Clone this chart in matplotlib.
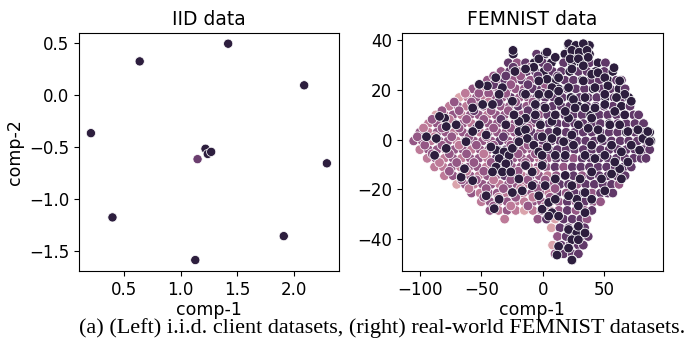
import numpy as np
import pandas as pd
import seaborn as sns
import matplotlib.pyplot as plt

plt.rcParams['font.family'] = 'DejaVu Sans'

# IID client embeddings
iid_x = [0.21, 0.64, 1.42, 2.09, 2.29, 1.91, 1.13, 0.40, 1.22, 1.24, 1.27, 1.15]
iid_y = [-0.37, 0.32, 0.49, 0.09, -0.66, -1.36, -1.59, -1.18, -0.52, -0.57, -0.55, -0.62]
iid_hue = [5, 5, 5, 5, 5, 5, 5, 5, 5, 5, 5, 3.8]

# FEMNIST embeddings, underlying layer read row by row
fem_rows_y = [38, 34.5, 31, 27.5, 24, 20.5, 17, 13.5, 10, 6.5, 3, -0.5, -4, -7.5, -11,
              -14.5, -18, -21.5, -25, -28.5, -32, -35.5, -39, -42.5, -46, -48.5]
fem_rows_x = [
    [21, 27, 33, 38],
    [-24, -5, 2, 18, 24, 31, 38],
    [-28, -21, -14, -7, 0, 7, 17, 24, 31, 38, 45, 51],
    [-34, -27, -20, -13, -6, 1, 8, 15, 22, 29, 36, 43, 50, 57],
    [-45, -38, -31, -24, -17, -10, -3, 4, 11, 18, 25, 32, 39, 46, 53, 60, 64],
    [-57, -50, -43, -36, -29, -22, -15, -8, -1, 6, 13, 20, 27, 34, 41, 48, 55, 62, 67],
    [-68, -61, -54, -47, -40, -33, -26, -19, -12, -5, 2, 9, 16, 23, 30, 37, 44, 51, 58, 65, 70],
    [-76, -69, -62, -55, -48, -41, -34, -27, -20, -13, -6, 1, 8, 15, 22, 29, 36, 43, 50, 57, 64, 71],
    [-87, -80, -73, -66, -59, -52, -45, -38, -31, -24, -17, -10, -3, 4, 11, 18, 25, 32, 39, 46, 53, 60, 67, 74, 78],
    [-93, -86, -79, -72, -65, -58, -51, -44, -37, -30, -23, -16, -9, -2, 5, 12, 19, 26, 33, 40, 47, 54, 61, 68, 75, 82],
    [-100, -93, -86, -79, -72, -65, -58, -51, -44, -37, -30, -23, -16, -9, -2, 5, 12, 19, 26, 33, 40, 47, 54, 61, 68, 75, 82, 87],
    [-105, -98, -91, -84, -77, -70, -63, -56, -49, -42, -35, -28, -21, -14, -7, 0, 7, 14, 21, 28, 35, 42, 49, 56, 63, 70, 77, 84, 88],
    [-100, -93, -86, -79, -72, -65, -58, -51, -44, -37, -30, -23, -16, -9, -2, 5, 12, 19, 26, 33, 40, 47, 54, 61, 68, 75, 82, 87],
    [-94, -87, -80, -73, -66, -59, -52, -45, -38, -31, -24, -17, -10, -3, 4, 11, 18, 25, 32, 39, 46, 53, 60, 67, 74, 80, 84],
    [-88, -81, -74, -67, -60, -53, -46, -39, -32, -25, -18, -11, -4, 3, 10, 17, 24, 31, 38, 45, 52, 59, 66, 72],
    [-80, -73, -66, -59, -52, -45, -38, -31, -24, -17, -10, -3, 4, 11, 18, 25, 32, 39, 46, 53, 60, 67],
    [-70, -63, -56, -49, -42, -35, -28, -21, -14, -7, 0, 7, 14, 21, 28, 35, 42, 49, 56, 62],
    [-58, -51, -44, -37, -30, -23, -16, -9, -2, 5, 12, 19, 26, 33, 40, 47, 53, 57],
    [-50, -43, -36, -29, -22, -15, -8, -1, 6, 13, 20, 27, 34, 41, 47],
    [-43, -36, -29, -22, -15, -8, -1, 6, 13, 20, 27, 34, 40],
    [-31, -4, 3, 10, 17, 24, 31, 36],
    [7, 14, 21, 28, 34],
    [12, 19, 26, 33, 37],
    [8, 15, 22, 29, 33],
    [10, 17, 24, 29],
    [24],
]
fem_rows_hue = [
    [5, 5, 5, 5],
    [5, 4, 5, 5, 5, 5, 5],
    [4, 3, 4, 5, 4, 5, 4, 5, 5, 4, 5, 4],
    [3, 4, 3, 4, 4, 5, 4, 4, 5, 4, 4, 5, 4, 5],
    [3, 3, 4, 3, 4, 3, 4, 4, 5, 4, 4, 5, 4, 4, 5, 4, 4],
    [3, 2, 3, 3, 4, 3, 3, 4, 4, 4, 5, 4, 4, 4, 5, 4, 4, 5, 4],
    [1, 2, 3, 2, 3, 3, 4, 3, 3, 4, 4, 4, 4, 5, 4, 4, 4, 5, 4, 4, 5],
    [2, 3, 2, 3, 3, 2, 3, 3, 4, 3, 4, 4, 4, 4, 4, 5, 4, 4, 4, 4, 5, 4],
    [1, 2, 3, 2, 3, 3, 2, 3, 3, 3, 3, 4, 3, 4, 4, 4, 4, 4, 5, 4, 4, 4, 4, 4, 4],
    [2, 3, 2, 3, 3, 2, 3, 3, 3, 2, 3, 4, 3, 4, 4, 4, 4, 4, 4, 4, 4, 5, 4, 4, 4, 4],
    [3, 2, 3, 3, 2, 3, 3, 2, 3, 3, 3, 3, 3, 4, 3, 4, 4, 4, 4, 4, 4, 4, 4, 4, 5, 4, 4, 5],
    [3, 3, 2, 3, 3, 2, 3, 3, 3, 3, 4, 3, 3, 3, 4, 4, 4, 4, 4, 4, 4, 4, 4, 4, 4, 4, 4, 4, 5],
    [2, 3, 3, 2, 3, 3, 2, 3, 3, 4, 4, 3, 3, 3, 3, 4, 4, 4, 4, 4, 4, 4, 4, 4, 4, 4, 4, 4],
    [2, 3, 2, 3, 2, 3, 3, 2, 4, 4, 3, 3, 3, 2, 3, 4, 4, 3, 4, 4, 4, 4, 4, 4, 4, 4, 4],
    [2, 2, 3, 2, 3, 3, 2, 4, 4, 3, 3, 2, 3, 3, 4, 3, 4, 4, 4, 4, 4, 4, 4, 4],
    [2, 3, 2, 3, 2, 3, 3, 4, 3, 2, 3, 3, 2, 3, 4, 4, 3, 4, 4, 4, 4, 4],
    [1, 3, 2, 3, 3, 2, 3, 3, 2, 3, 3, 3, 4, 4, 3, 4, 4, 4, 4, 3],
    [3, 2, 3, 3, 2, 3, 2, 3, 3, 2, 4, 3, 4, 4, 3, 4, 4, 4],
    [2, 3, 2, 3, 2, 2, 3, 3, 2, 3, 4, 3, 4, 3, 3],
    [3, 2, 3, 2, 1, 2, 3, 2, 3, 4, 3, 3, 4],
    [2, 3, 4, 1, 4, 4, 4, 3],
    [1, 4, 4, 4, 4],
    [3, 4, 4, 4, 4],
    [1, 4, 4, 4, 4],
    [3, 4, 4, 4],
    [5],
]

# FEMNIST mauve clients in the left and middle part
mid_x = [-24, -10, 4,
         -40, -30, -18, -4, 12,
         -52, -40, -26, -12, 2,
         -63, -52, -44, -30, -16, 0,
         -72, -58, -44, -36, -22, -8,
         -82, -68, -56, -42, -28, -12,
         -90, -76, -62, -48, -34, -20, -6,
         -97, -82, -68, -54, -40, -26, -12,
         -102, -88, -74, -60, -46, -32, -18, -4,
         -96, -82, -68, -54, -40, -26, -12,
         -90, -76, -62, -48, -34, -20, -6,
         -84, -70, -56, -42, -28, -14, 0,
         -76, -62, -48, -34, -20, -6,
         -66, -54, -40, -26, -12, 2,
         -60, -46, -32, -18, -4, 10,
         -48, -36, -22, -8, 6,
         -40, -26, -12, 2]
mid_y = [29.2, 29.2, 29.2,
         25.7, 25.7, 25.7, 25.7, 25.7,
         22.2, 22.2, 22.2, 22.2, 22.2,
         18.7, 18.7, 18.7, 18.7, 18.7, 18.7,
         15.2, 15.2, 15.2, 15.2, 15.2, 15.2,
         11.7, 11.7, 11.7, 11.7, 11.7, 11.7,
         8.2, 8.2, 8.2, 8.2, 8.2, 8.2, 8.2,
         4.7, 4.7, 4.7, 4.7, 4.7, 4.7, 4.7,
         1.2, 1.2, 1.2, 1.2, 1.2, 1.2, 1.2, 1.2,
         -2.2, -2.2, -2.2, -2.2, -2.2, -2.2, -2.2,
         -5.7, -5.7, -5.7, -5.7, -5.7, -5.7, -5.7,
         -9.2, -9.2, -9.2, -9.2, -9.2, -9.2, -9.2,
         -12.7, -12.7, -12.7, -12.7, -12.7, -12.7,
         -16.2, -16.2, -16.2, -16.2, -16.2, -16.2,
         -19.7, -19.7, -19.7, -19.7, -19.7, -19.7,
         -23.2, -23.2, -23.2, -23.2, -23.2,
         -26.7, -26.7, -26.7, -26.7]
mid_hue = [4, 3, 4,
           3, 4, 3, 4, 4,
           3, 4, 3, 4, 3,
           2, 3, 3, 3, 4, 4,
           3, 3, 2, 4, 3, 3,
           3, 3, 4, 3, 3, 4,
           3, 2, 3, 3, 4, 3, 4,
           2, 3, 3, 4, 3, 3, 3,
           3, 2, 3, 3, 3, 4, 3, 4,
           3, 3, 2, 3, 3, 3, 3,
           3, 3, 3, 2, 4, 3, 3,
           2, 3, 3, 3, 4, 3, 3,
           3, 2, 3, 3, 3, 2,
           3, 3, 2, 3, 3, 3,
           2, 3, 3, 2, 3, 3,
           3, 2, 3, 2, 3,
           3, 2, 3, 2]

# FEMNIST darkest clients drawn on top
dark_x = [-24.2, -3.2, 3.5, 10.2, -7.3, -14, -22.6, 21, 26.9, 33, 23.7, 29.6, 36, 37, 22.3, 29,
          23.7, 33, 12.9, 3.5, -3.2, 7.5, 21, 33, 39.8, 45, 50.5, 58, 53, 62.6, 66.7, 60, 50.5,
          42.5, 34.4, 25, 13, 2, -6, -14, -24.7, -32.8, -38.2, -45, -51.6, -35.5, -40.9, -48.9,
          -57, -79.8, -84, -78.5, -70.4, -94.6, -86.6, -88, -78.5, -66.4, -57, -63.7, -46, -39.5,
          -35.5, -38, -31.5, -27.4, -35.5, -30, -38, -32.8, -26, -40.9, -24.7, -19.4, -14, -12.6,
          -19.4, -7.3, -3.2, -0.5, 3.5, -0.5, -1.9, 7.5, 11.6, 7.5, 17, 23.7, 29, 21, 25, 10.2,
          18.3, -0.5, -8.6, -14, -19.4, -24.7, -16.7, -8.6, -3.2, -0.5, 4.8, 10.2, 7.5, 12.9, 4.8,
          10.2, 2, 18.3, 23.7, 30.4, 34.4, 27.7, 21, 39.8, 34.4, 29, 39.8, 47.8, 50.5, 56, 64,
          62.6, 69.3, 58.6, 50.5, 42.5, 34.4, 39.8, 47.8, 56, 64, 72, 78.8, 81.5, 85.5, 86.8,
          77.4, 69.3, 62.6, 54.6, 45, 37, 39.8, 34.4, 42.5, 50.5, 58.6, 66.7, 72, 26.3, 18.3,
          10.2, -6, -14, -19.4, -30, -23.4, -3.2, 4.8, 12.9, 21, 27.7, 23.7, 29, 21, 12.9, 29,
          34.4, 23.7, 11.6, -51.6, -46, -42.2, -62.4, -57]
dark_y = [36, 32.6, 35.3, 33.2, 29.2, 28.5, 27.5, 38.7, 38, 38.7, 36, 35.3, 36, 33.2, 32.6, 32.6,
          28.5, 29.8, 25, 24.4, 23.7, 21, 21, 23.7, 26.4, 27, 25, 29, 21.7, 23.7, 18.3, 17, 18.3,
          21, 17, 16.2, 15.5, 12.8, 14.2, 18.3, 15.5, 21, 25, 21.7, 22.3, 18.3, 14.2, 14.2,
          12.8, 8.7, 9.4, 5.3, 6, 1.2, 0.5, -6.3, -3.5, -15.1, -16.5, -11.7, -22.6, -27.8,
          -24, -4.2, -4.9, -6.3, -7.6, -9.7, -11, -13, -13, -13, -3.5, 3.3, 4, 0.5,
          -0.8, -2.2, -4.9, -6.3, -2.9, 1.2, 6, 7.4, 3.3, 0.5, -0.8, 1.9, 6, 8.7, -2.2, -6.3,
          -6.3, -10.4, -13, -10.4, -15.8, -21.3, -20.6, -18.5, -22.6, -28, -25.3, -24, -29.4, -30.8, -30.8,
          -15.8, -18.5, -14.4, -18.5, -15.8, -21.3, -24, -22.6, -24, -29.4, -26.7, -13, -15.8, -20.6, -13.8, -15.8,
          -11.7, -9, -9, -6.3, -7.6, -6.3, -2.2, 0.5, -2.2, -4.9, -2.2, -4.2, 0.5, 3.3, -0.8,
          4, 3.3, 6, 6, 4, 4.6, 8.7, 12.8, 12.8, 14.2, 11.4, 10, 15.5, 12.8, 11.4,
          10, 10, 8.7, 7.4, 6, 10, 18.3, 18.3, 19.6, -36.2, -37.6, -40.3, -40.3, -43.7, -43, -34.9,
          -37.6, -48.5, -46.5, 6, 1.9, -2.9, -0.8, 3.3]

fem_x = [x for row in fem_rows_x for x in row] + mid_x + dark_x
fem_y = [y for y, row in zip(fem_rows_y, fem_rows_x) for _ in row] + mid_y + dark_y
fem_hue = [h for row in fem_rows_hue for h in row] + mid_hue + [5] * len(dark_x)

iid = pd.DataFrame({'comp-1': iid_x, 'comp-2': iid_y, 'hue': iid_hue})
fem = pd.DataFrame({'comp-1': fem_x, 'comp-2': fem_y, 'hue': fem_hue})

cmap = sns.cubehelix_palette(as_cmap=True)

fig = plt.figure(figsize=(6.94, 3.39), dpi=100)
ax1 = fig.add_axes([0.114, 0.201, 0.374, 0.702])
ax2 = fig.add_axes([0.579, 0.201, 0.376, 0.702])

sns.scatterplot(data=iid, x='comp-1', y='comp-2', hue='hue', palette=cmap,
                hue_norm=(0, 5), s=44, legend=False, ax=ax1)
sns.scatterplot(data=fem, x='comp-1', y='comp-2', hue='hue', palette=cmap,
                hue_norm=(0, 5), s=48, legend=False, ax=ax2)

ax1.set_title('IID data', fontsize=13.5)
ax2.set_title('FEMNIST data', fontsize=13.5)
ax1.set_xlabel('comp-1', fontsize=12.5, labelpad=1.5)
ax1.set_ylabel('comp-2', fontsize=12.5)
ax2.set_xlabel('comp-1', fontsize=12.5, labelpad=1.5)
ax2.set_ylabel('')
ax1.set_xticks([0.5, 1.0, 1.5, 2.0])
ax1.set_yticks([0.5, 0.0, -0.5, -1.0, -1.5])
ax2.set_xticks([-100, -50, 0, 50])
ax2.set_yticks([40, 20, 0, -20, -40])
for ax in (ax1, ax2):
    ax.tick_params(labelsize=12)

fig.text(0.551, 0.032, '(a) (Left) i.i.d. client datasets, (right) real-world FEMNIST datasets.',
         ha='center', va='center', fontsize=16, family='Liberation Serif')

fig.savefig('out.png', dpi=100)
